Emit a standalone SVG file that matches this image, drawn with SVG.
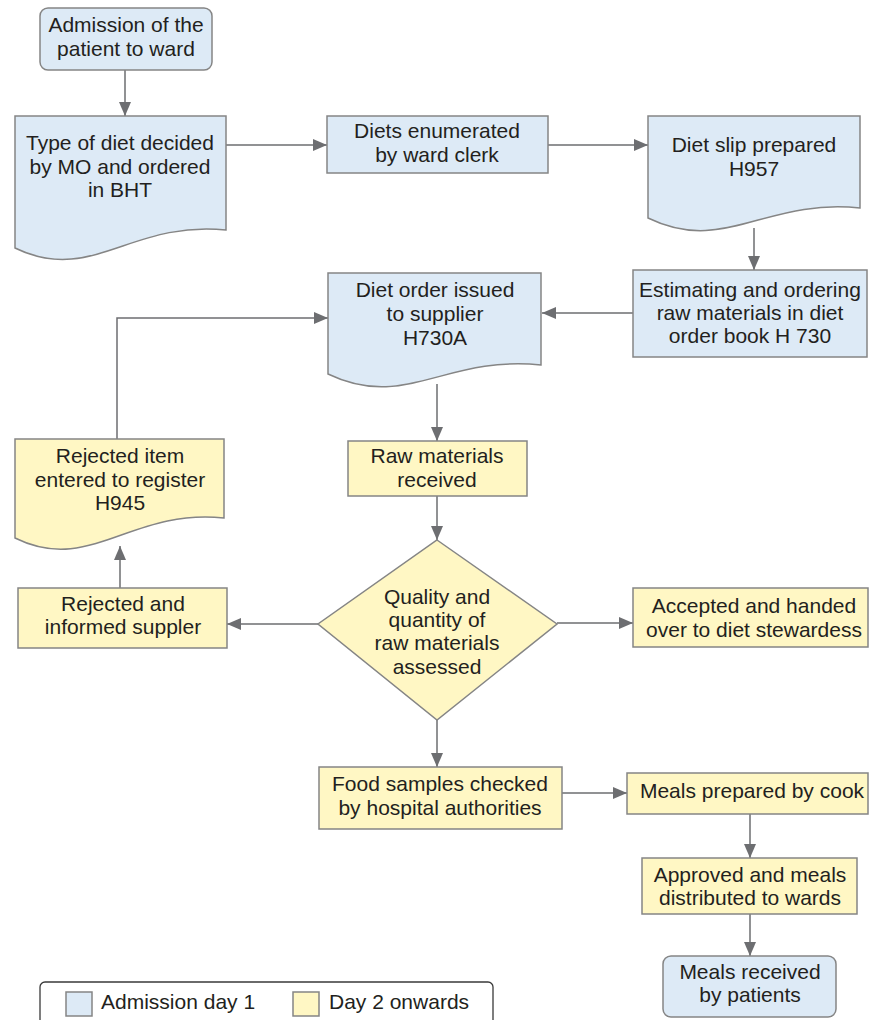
<svg xmlns="http://www.w3.org/2000/svg" width="870" height="1020" viewBox="0 0 870 1020">
<defs>
<style>
.b{fill:#ddeaf6;stroke:#858585;stroke-width:1.5}
.y{fill:#fff7c4;stroke:#858585;stroke-width:1.5}
text{font-family:"Liberation Sans",Arial,sans-serif;font-size:21px;fill:#231f20;text-anchor:middle}
.c{fill:none;stroke:#6d6e71;stroke-width:1.5}
</style>
<marker id="ah" markerUnits="userSpaceOnUse" markerWidth="14" markerHeight="12" refX="14" refY="6" orient="auto">
<path d="M0,0 L14,6 L0,12 Z" fill="#6d6e71"/>
</marker>
</defs>
<rect width="870" height="1020" fill="#ffffff"/>
<g id="connectors">
<path class="c" d="M125,70 V116" marker-end="url(#ah)"/>
<path class="c" d="M226,145 H327" marker-end="url(#ah)"/>
<path class="c" d="M548,145 H648" marker-end="url(#ah)"/>
<path class="c" d="M754,228 V270" marker-end="url(#ah)"/>
<path class="c" d="M633,313 H542" marker-end="url(#ah)"/>
<path class="c" d="M437,384 V441" marker-end="url(#ah)"/>
<path class="c" d="M437,496 V540" marker-end="url(#ah)"/>
<path class="c" d="M318,624 H227" marker-end="url(#ah)"/>
<path class="c" d="M120,588 V546" marker-end="url(#ah)"/>
<path class="c" d="M117,439 V318 H328" marker-end="url(#ah)"/>
<path class="c" d="M557,623 H633" marker-end="url(#ah)"/>
<path class="c" d="M437,720 V767" marker-end="url(#ah)"/>
<path class="c" d="M562,793 H627" marker-end="url(#ah)"/>
<path class="c" d="M750,814 V858" marker-end="url(#ah)"/>
<path class="c" d="M750,914 V956" marker-end="url(#ah)"/>
</g>
<g id="admission">
<rect class="b" x="40" y="8" width="172" height="62" rx="8"/>
<text x="126" y="32">Admission of the</text>
<text x="126" y="55.5">patient to ward</text>
</g>
<g id="type-of-diet">
<path class="b" d="M15,116 H226 V230 C131,220 91,285 15,248 Z"/>
<text x="120" y="150">Type of diet decided</text>
<text x="120" y="174">by MO and ordered</text>
<text x="120" y="197">in BHT</text>
</g>
<g id="diets-enumerated">
<rect class="b" x="327" y="116" width="221" height="57"/>
<text x="437" y="138">Diets enumerated</text>
<text x="437" y="162">by ward clerk</text>
</g>
<g id="diet-slip">
<path class="b" d="M648,116 H860 V208 C765,198 724,255 648,218 Z"/>
<text x="754" y="152">Diet slip prepared</text>
<text x="754" y="176">H957</text>
</g>
<g id="estimating">
<rect class="b" x="633" y="270" width="234" height="87"/>
<text x="750" y="297">Estimating and ordering</text>
<text x="750" y="320">raw materials in diet</text>
<text x="750" y="343">order book H 730</text>
</g>
<g id="diet-order">
<path class="b" d="M328,273 H541 V365 C445,355 405,411 328,374 Z"/>
<text x="435" y="297">Diet order issued</text>
<text x="435" y="321">to supplier</text>
<text x="435" y="345">H730A</text>
</g>
<g id="rejected-item">
<path class="y" d="M15,439 H224 V518 C130,508 90,575 15,538 Z"/>
<text x="120" y="463">Rejected item</text>
<text x="120" y="487">entered to register</text>
<text x="120" y="510">H945</text>
</g>
<g id="raw-materials">
<rect class="y" x="348" y="441" width="179" height="55"/>
<text x="437" y="463">Raw materials</text>
<text x="437" y="487">received</text>
</g>
<g id="quality">
<path class="y" d="M437,540 L557,624 L437,720 L318,624 Z"/>
<text x="437" y="604">Quality and</text>
<text x="437" y="627">quantity of</text>
<text x="437" y="650">raw materials</text>
<text x="437" y="674">assessed</text>
</g>
<g id="rejected-informed">
<rect class="y" x="18" y="588" width="209" height="60"/>
<text x="123" y="611">Rejected and</text>
<text x="123" y="634">informed suppler</text>
</g>
<g id="accepted">
<rect class="y" x="633" y="588" width="235" height="59"/>
<text x="754" y="613">Accepted and handed</text>
<text x="754" y="637">over to diet stewardess</text>
</g>
<g id="food-samples">
<rect class="y" x="319" y="767" width="243" height="62"/>
<text x="440" y="791">Food samples checked</text>
<text x="440" y="815">by hospital authorities</text>
</g>
<g id="meals-prepared">
<rect class="y" x="627" y="773" width="241" height="41"/>
<text x="752" y="798">Meals prepared by cook</text>
</g>
<g id="approved">
<rect class="y" x="642" y="858" width="215" height="56"/>
<text x="750" y="882">Approved and meals</text>
<text x="750" y="905">distributed to wards</text>
</g>
<g id="meals-received">
<rect class="b" x="663" y="956" width="173" height="61" rx="8"/>
<text x="750" y="979">Meals received</text>
<text x="750" y="1002">by patients</text>
</g>
<g id="legend">
<rect x="40" y="982" width="453" height="60" rx="5" fill="#ffffff" stroke="#3a3a3a" stroke-width="1.3"/>
<rect class="b" x="66" y="992" width="26" height="24"/>
<text x="101" y="1009" style="text-anchor:start">Admission day 1</text>
<rect class="y" x="293" y="992" width="26" height="24"/>
<text x="329" y="1009" style="text-anchor:start">Day 2 onwards</text>
</g>
</svg>
